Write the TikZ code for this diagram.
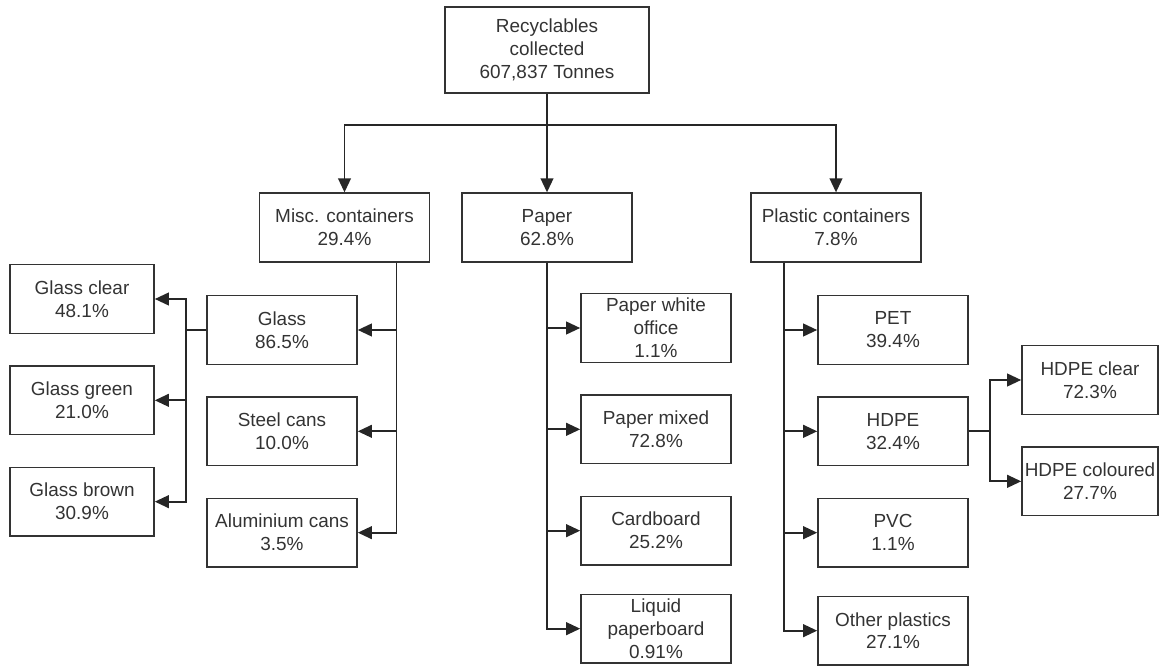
\documentclass[tikz,border=0pt]{standalone}
\usepackage{fontspec}
\setmainfont{Liberation Sans}
\usetikzlibrary{shapes,arrows.meta}
\tikzstyle{block} = [rectangle, draw=black!80, line width=1.2pt, text=black!80,
    align=center, inner sep=1pt, minimum height=51.5pt,
    font=\fontsize{14.2}{17.2}\selectfont]
\tikzstyle{mid} = [minimum width=127.5pt]
\tikzstyle{leaf} = [minimum width=112.5pt]
\tikzstyle{side} = [minimum width=108pt]
\tikzstyle{wire} = [draw, black!85, line width=1.4pt]
\tikzstyle{line} = [wire, -{Triangle[length=10.5pt,width=9.5pt]}]

\begin{document}
\begin{tikzpicture}[x=0.75pt, y=-0.75pt, node distance=76pt, auto]
        \useasboundingbox (0,0) rectangle (1159,666);
        % Place nodes

        % top of the tree
        \node [block, minimum width=153pt, minimum height=64.5pt] (root) at (547,50)
              {Recyclables\\collected\\607,837 Tonnes};
        \coordinate [below of=root, node distance=56.25pt] (fork); % split point

        % main streams
        \node [block, mid] (misc) at (344.5,227.5) {Misc. containers\\29.4\%};
        \node [block, mid] (paper) at (547,227.5) {Paper\\62.8\%};
        \node [block, mid] (plas) at (836,227.5) {Plastic containers\\7.8\%};

        % 1. Misc. containers
        \node [block, leaf] (glass) at (282,330) {Glass\\86.5\%};
        \node [block, leaf, below of=glass] (steel) {Steel cans\\10.0\%};
        \node [block, leaf, below of=steel] (alum) {Aluminium cans\\3.5\%};

        \node [block, side] (gclear) at (82,299) {Glass clear\\48.1\%};
        \node [block, side, below of=gclear] (ggreen) {Glass green\\21.0\%};
        \node [block, side, below of=ggreen] (gbrown) {Glass brown\\30.9\%};

        % 2. Paper
        \node [block, leaf] (pwo) at (656,328) {Paper white\\office\\1.1\%};
        \node [block, leaf, below of=pwo] (pmix) {Paper mixed\\72.8\%};
        \node [block, leaf, below of=pmix] (card) {Cardboard\\25.2\%};
        \node [block, leaf, below of=card, node distance=73.5pt] (liq)
              {Liquid\\paperboard\\0.91\%};

        % 3. Plastic containers
        \node [block, leaf] (pet) at (893,330) {PET\\39.4\%};
        \node [block, leaf, below of=pet] (hdpe) {HDPE\\32.4\%};
        \node [block, leaf, below of=hdpe] (pvc) {PVC\\1.1\%};
        \node [block, leaf, below of=pvc, node distance=73.5pt] (oth) {Other plastics\\27.1\%};

        \node [block, minimum width=102pt] (hclear) at (1090,380) {HDPE clear\\72.3\%};
        \node [block, minimum width=102pt, below of=hclear] (hcol) {HDPE coloured\\27.7\%};

        % Draw edges
        \path [wire] (root) -- (fork);
        \path [line] (fork) -| (misc);
        \path [line] (fork) -- (paper);
        \path [line] (fork) -| (plas);

        \path [line] ([xshift=39pt]misc.south) |- (glass);
        \path [line] ([xshift=39pt]misc.south) |- (steel);
        \path [line] ([xshift=39pt]misc.south) |- (alum);

        \path [line] (glass.west) -- ++(-20,0) |- (gclear);
        \path [line] (glass.west) -- ++(-20,0) |- (ggreen);
        \path [line] (glass.west) -- ++(-20,0) |- (gbrown);

        \path [line] (paper) |- (pwo);
        \path [line] (paper) |- (pmix);
        \path [line] (paper) |- (card);
        \path [line] (paper) |- (liq);

        \path [line] ([xshift=-39pt]plas.south) |- (pet);
        \path [line] ([xshift=-39pt]plas.south) |- (hdpe);
        \path [line] ([xshift=-39pt]plas.south) |- (pvc);
        \path [line] ([xshift=-39pt]plas.south) |- (oth);

        \path [line] (hdpe.east) -- ++(21,0) |- (hclear);
        \path [line] (hdpe.east) -- ++(21,0) |- (hcol);
\end{tikzpicture}
\end{document}
